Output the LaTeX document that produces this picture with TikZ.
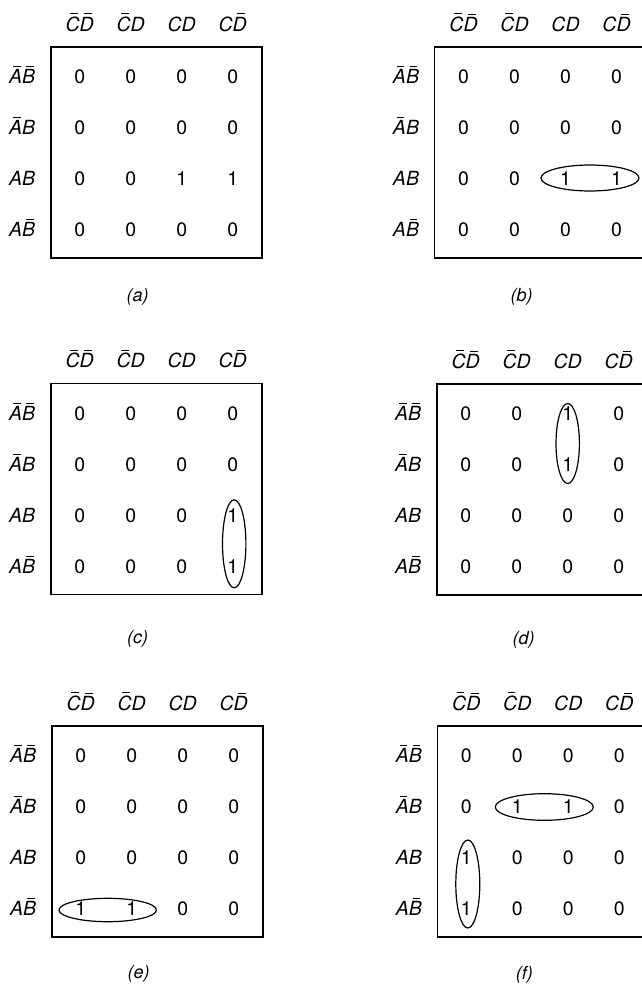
\documentclass[tikz,border=0pt]{standalone}
\usepackage{fontspec}
\setmainfont{TeX Gyre Heros}
\usetikzlibrary{calc}
\newcommand\ovl[1]{\setbox0\hbox{#1}\rlap{\hspace{0.32\wd0}\raisebox{\dimexpr\ht0+2.6pt\relax}{\rule{0.55\wd0}{0.8pt}}}\box0}
\tikzset{
  txt/.style={inner sep=0pt, text height=13.8pt, text depth=0pt},
  cell/.style={txt, font=\fontsize{19.5}{19.5}\selectfont},
  hdr/.style={txt, font=\fontsize{19.5}{19.5}\selectfont\itshape},
  capt/.style={txt, font=\fontsize{18}{18}\selectfont\itshape},
  kbox/.style={draw, line width=1.6pt},
  loop/.style={draw, line width=1.2pt}
}
% #1 id, #2 left, #3 top, #4 caption y, #5 caption, #6-#9 rows
\newcommand\kmap[9]{%
  \draw[kbox] (#2,#3) rectangle (#2+211,#3+211);
  \node[hdr] (#1-h0) at (#2+29,#3-22.5) {\ovl{C}\ovl{D}};
  \node[hdr] (#1-h1) at (#2+80,#3-22.5) {\ovl{C}D};
  \node[hdr] (#1-h2) at (#2+131,#3-22.5) {CD};
  \node[hdr] (#1-h3) at (#2+182,#3-22.5) {C\ovl{D}};
  \node[hdr] (#1-r0) at (#2-28.5,#3+30) {\ovl{A}\ovl{B}};
  \node[hdr] (#1-r1) at (#2-28.5,#3+81) {\ovl{A}B};
  \node[hdr] (#1-r2) at (#2-28.5,#3+132) {AB};
  \node[hdr] (#1-r3) at (#2-28.5,#3+183) {A\ovl{B}};
  \foreach \v [count=\j from 0] in {#6} {\node[cell] (#1-0-\j) at ({#2+29+51*\j},{#3+30}) {\v};}
  \foreach \v [count=\j from 0] in {#7} {\node[cell] (#1-1-\j) at ({#2+29+51*\j},{#3+81}) {\v};}
  \foreach \v [count=\j from 0] in {#8} {\node[cell] (#1-2-\j) at ({#2+29+51*\j},{#3+132}) {\v};}
  \foreach \v [count=\j from 0] in {#9} {\node[cell] (#1-3-\j) at ({#2+29+51*\j},{#3+183}) {\v};}
  \node[capt] (#1-cap) at (#2+87,#4) {(#5)};
}
\begin{document}
\begin{tikzpicture}[x=1pt,y=-1pt]
\useasboundingbox (0,0) rectangle (642,985);
\kmap{a}{50.7}{46.7}{295}{a}{0,0,0,0}{0,0,0,0}{0,0,1,1}{0,0,0,0}
\kmap{b}{434.5}{47}{295}{b}{0,0,0,0}{0,0,0,0}{0,0,1,1}{0,0,0,0}
\kmap{c}{50.7}{383.3}{637}{c}{0,0,0,0}{0,0,0,0}{0,0,0,1}{0,0,0,1}
\kmap{d}{436.7}{384}{638}{d}{0,0,1,0}{0,0,1,0}{0,0,0,0}{0,0,0,0}
\kmap{e}{51.7}{726}{972}{e}{0,0,0,0}{0,0,0,0}{0,0,0,0}{1,1,0,0}
\kmap{f}{437.3}{726}{973}{f}{0,0,0,0}{0,1,1,0}{1,0,0,0}{1,0,0,0}
\draw[loop] ($(b-2-2)!0.5!(b-2-3)+(-1,-1)$) ellipse [x radius=49pt, y radius=13pt];
\draw[loop] ($(c-2-3)!0.5!(c-3-3)+(1.5,3)$) ellipse [x radius=11.7pt, y radius=44pt];
\draw[loop] ($(d-0-2)!0.5!(d-1-2)+(0,4)$) ellipse [x radius=11.7pt, y radius=40pt];
\draw[loop] ($(e-3-0)!0.5!(e-3-1)+(1.5,1)$) ellipse [x radius=48.7pt, y radius=11.7pt];
\draw[loop] ($(f-1-1)!0.5!(f-1-2)+(1.5,0)$) ellipse [x radius=49pt, y radius=13.3pt];
\draw[loop] ($(f-2-0)!0.5!(f-3-0)+(1.5,0.5)$) ellipse [x radius=12pt, y radius=44pt];
\end{tikzpicture}
\end{document}
